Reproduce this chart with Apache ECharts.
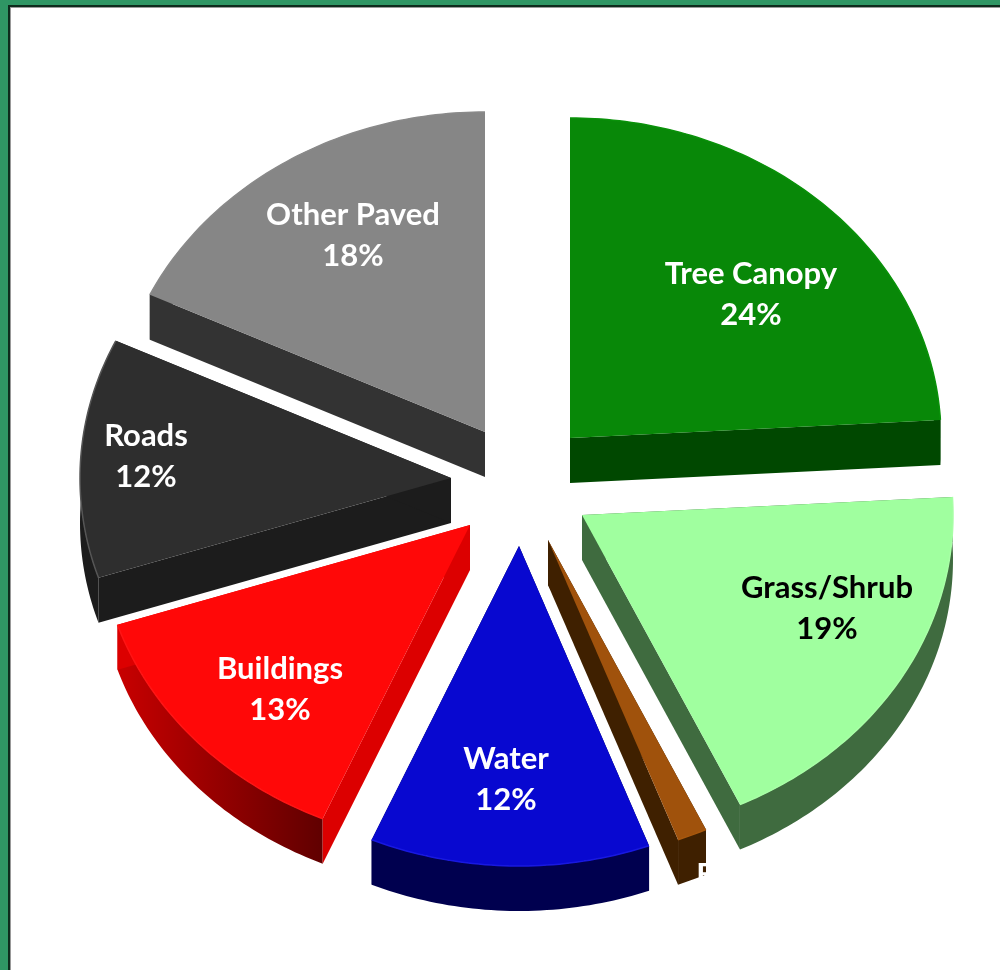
<!DOCTYPE html>
<html>
<head>
<meta charset="utf-8">
<title>Land cover</title>
<script src="https://cdn.jsdelivr.net/npm/echarts@6/dist/echarts.min.js"></script>
<style>
html,body{margin:0;padding:0;background:#2f9664;overflow:hidden;}
#frame{position:absolute;left:8px;top:5px;width:992px;height:965px;background:#fff;border-left:2px solid #0d2b1c;border-top:2px solid #0d2b1c;box-sizing:border-box;box-shadow:inset 1px 1px 0 #999;}
#main{position:absolute;left:0;top:0;width:1000px;height:970px;}
</style>
</head>
<body>
<div id="frame"></div>
<div id="main"></div>
<script>
//data (percent of land area)
var categories=['Tree Canopy','Grass/Shrub','Bare Soil','Water','Buildings','Roads','Other Paved'];
var coverValues=[24.1,18.9,1.3,12.2,13.45,12.1,17.95];

//styles
var topColors=['#088808','#a0ff9f','#a0520c','#0808d0','#ff0808','#2e2e2e','#868686'];
var cutColors=['#004800','#3f6b3f','#3f2000','#00004f','#dc0000','#1c1c1c','#333333'];
var arcColors=[['#004800','#004800'],['#3f6b3f','#3f6b3f'],['#3f2000','#3f2000'],['#00004f','#00004f'],['#c80000','#600000'],['#1c1c1c','#1c1c1c'],['#333333','#333333']];
var rimColors=['#0a920a','#a8ffa6','#a8580d','#1818e0','#ff1414','#555555','#8a8a8a'];
var textColors=['#fff','#000','#fff','#fff','#fff','#fff','#fff'];

//layout: pie tip of each exploded slice, label centre
var tips=[[570,438],[582,515],[548,540],[519,546],[470,525],[451,478],[485,432]];
var labelPos=[[751,294],[827,608],[757,895],[506,779],[280,689],[146,456],[353,235]];
var rx=371,ry=320,depth=45;

var total=0;
for(var i=0;i<coverValues.length;i++){total+=coverValues[i];}
var startAngles=[];
var sum=0;
for(var i=0;i<coverValues.length;i++){
	startAngles[i]=sum/total*Math.PI*2;
	sum+=coverValues[i];
}

function renderSlice(params,api){
	var i=params.dataIndex;
	var a0=startAngles[i];
	var a1=a0+api.value(0)/total*Math.PI*2;
	var cx=tips[i][0],cy=tips[i][1];
	var n=Math.max(4,Math.ceil((a1-a0)*60));
	var arc=[];
	var arcLow=[];
	for(var k=0;k<=n;k++){
		var a=a0+(a1-a0)*k/n;
		var x=cx+rx*Math.sin(a);
		var y=cy-ry*Math.cos(a);
		arc.push([x,y]);
		arcLow.unshift([x,y+depth]);
	}
	var first=arc[0],last=arc[n];
	function wall(p,q,fill){
		return {type:'polygon',shape:{points:[p,q,[q[0],q[1]+depth],[p[0],p[1]+depth]]},style:{fill:fill}};
	}
	var tip=[cx,cy];
	var children=[
		{type:'polygon',shape:{points:arc.concat(arcLow)},style:{
			fill:new echarts.graphic.LinearGradient(0,0,1,0,[{offset:0,color:arcColors[i][0]},{offset:1,color:arcColors[i][1]}])
		}},
		wall(tip,first,cutColors[i]),
		wall(tip,last,cutColors[i]),
		{type:'polygon',shape:{points:[tip].concat(arc)},style:{fill:topColors[i]}},
		{type:'polyline',shape:{points:arc},style:{fill:null,stroke:rimColors[i],lineWidth:1.5}},
		{type:'text',z2:10,style:{
			x:labelPos[i][0],y:labelPos[i][1],
			text:categories[i]+'\n'+Math.round(api.value(0))+'%',
			fill:textColors[i],
			font:'bold 31px Lato',
			lineHeight:41,
			align:'center',verticalAlign:'middle'
		}}
	];
	return {type:'group',children:children};
}

var data=[];
for(var i=0;i<coverValues.length;i++){
	data.push({name:categories[i],value:[coverValues[i]]});
}

var myChart=echarts.init(document.getElementById('main'),null,{renderer:'canvas'});
myChart.setOption({
	backgroundColor:'transparent',
	animation:false,
	series:[{
		type:'custom',
		coordinateSystem:'none',
		renderItem:renderSlice,
		data:data
	}]
});
</script>
</body>
</html>
